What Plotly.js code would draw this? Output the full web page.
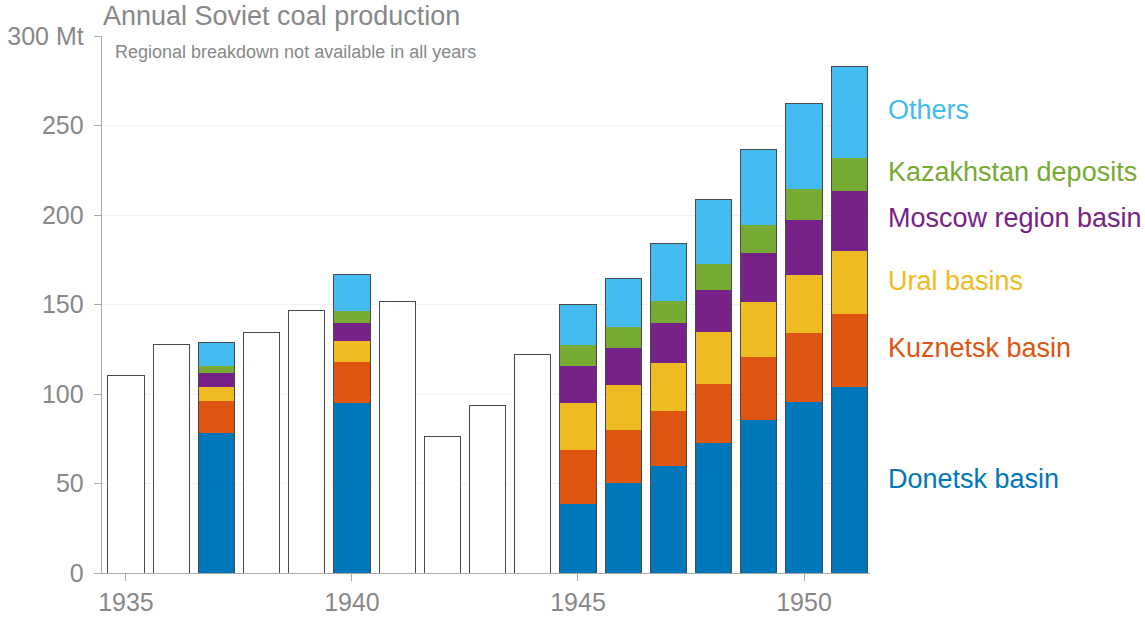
<!DOCTYPE html>
<html>
<head>
<meta charset="utf-8">
<script src="https://cdn.plot.ly/plotly-3.0.1.min.js"></script>
<style>html,body{margin:0;padding:0;background:#fff;}#chart{width:1145px;height:619px;}</style>
</head>
<body>
<div id="chart"></div>
<script>
// Years
var years = [1935,1936,1937,1938,1939,1940,1941,1942,1943,1944,1945,1946,1947,1948,1949,1950,1951];
// Total production where no regional breakdown exists (null where breakdown exists)
var totalOnly = [110.4,127.9,null,134.4,146.7,null,151.7,76.0,93.6,122.1,null,null,null,null,null,null,null];
// Regional breakdown (Mt), null where not available
var donetsk   = [null,null,78.0,null,null,95.0,null,null,null,null,38.7,50.4,59.9,72.8,85.3,95.3,103.7];
var kuznetsk  = [null,null,17.9,null,null,22.7,null,null,null,null,30.2,29.7,30.8,32.8,35.5,38.8,40.8];
var ural      = [null,null,8.2,null,null,11.9,null,null,null,null,26.1,25.1,26.8,29.0,30.4,32.2,35.4];
var moscow    = [null,null,7.4,null,null,10.2,null,null,null,null,20.5,20.3,21.9,23.5,27.6,30.9,33.4];
var kazakh    = [null,null,4.3,null,null,6.3,null,null,null,null,11.9,11.7,12.8,14.8,15.7,17.3,18.7];
var others    = [null,null,13.2,null,null,20.5,null,null,null,null,22.7,27.2,31.8,36.0,41.9,47.8,51.2];

var seriesNames  = ['Donetsk basin','Kuznetsk basin','Ural basins','Moscow region basin','Kazakhstan deposits','Others'];
var seriesData   = [donetsk,kuznetsk,ural,moscow,kazakh,others];
var seriesColors = ['#0077BB','#DD5511','#EEBB22','#772288','#77AA33','#44BBEE'];
var labelY       = [52.7,125.6,163.3,198.1,223.8,258.9];

var traces = [];
for (var s=0; s<seriesData.length; s++) {
  traces.push({
    type:'bar', x:years, y:seriesData[s], name:seriesNames[s],
    marker:{color:seriesColors[s], line:{width:0}},
    width:0.8, hoverinfo:'x+y+name', showlegend:false,
    xaxis:'x', yaxis:'y'
  });
}
// outline / white bars
var totals = [], fills = [];
for (var i=0;i<years.length;i++){
  if (totalOnly[i] !== null) { totals.push(totalOnly[i]); fills.push('#ffffff'); }
  else {
    var t=0; for (var s2=0;s2<seriesData.length;s2++) t += seriesData[s2][i];
    totals.push(t); fills.push('rgba(0,0,0,0)');
  }
}
traces.push({
  type:'bar', x:years, y:totals, name:'Total',
  marker:{color:fills, line:{color:'#4a4a4a', width:1}},
  width:0.8, showlegend:false, xaxis:'x2', yaxis:'y'
});

var xr = [1934.47, 1951.46];
var annotations = [
  {xref:'x', yref:'y', x:1934.72, y:291.2, xanchor:'left', yanchor:'middle', showarrow:false,
   text:'Regional breakdown not available in all years', font:{size:18, color:'#888888'}}
];
for (var k=0;k<seriesNames.length;k++){
  annotations.push({xref:'paper', yref:'y', x:1.021, y:labelY[k], xanchor:'left', yanchor:'middle',
    showarrow:false, text:seriesNames[k], font:{size:27, color:seriesColors[k]}});
}

var layout = {
  width:1145, height:619,
  margin:{l:102, r:275, t:36, b:46, pad:0},
  paper_bgcolor:'#ffffff', plot_bgcolor:'#ffffff',
  font:{family:'"Liberation Sans", Arial, sans-serif', color:'#888888'},
  barmode:'stack', bargap:0.2,
  title:{text:'Annual Soviet coal production', x:103/1145, xanchor:'left', xref:'container',
         y:1-16/619, yanchor:'middle', yref:'container', font:{size:27, color:'#888888'}},
  xaxis:{range:xr, tickvals:[1935,1940,1945,1950], ticktext:['1935','1940','1945','1950'],
         showgrid:false, zeroline:false, showline:true, linecolor:'#aaaaaa', linewidth:1.3,
         ticks:'outside', ticklen:7, tickcolor:'#aaaaaa', tickfont:{size:25, color:'#888888'}},
  xaxis2:{range:xr, overlaying:'x', visible:false, matches:'x'},
  yaxis:{range:[0,300], tickvals:[0,50,100,150,200,250,300],
         ticktext:['0','50','100','150','200','250','300 Mt'],
         showgrid:true, gridcolor:'#f2f2f2', gridwidth:1, zeroline:false,
         showline:true, linecolor:'#aaaaaa', linewidth:1.3, ticklabelstandoff:5,
         ticks:'outside', ticklen:7, tickcolor:'#aaaaaa', tickfont:{size:25, color:'#888888'}},
  annotations:annotations
};
Plotly.newPlot('chart', traces, layout, {displayModeBar:false, staticPlot:true});
</script>
</body>
</html>
